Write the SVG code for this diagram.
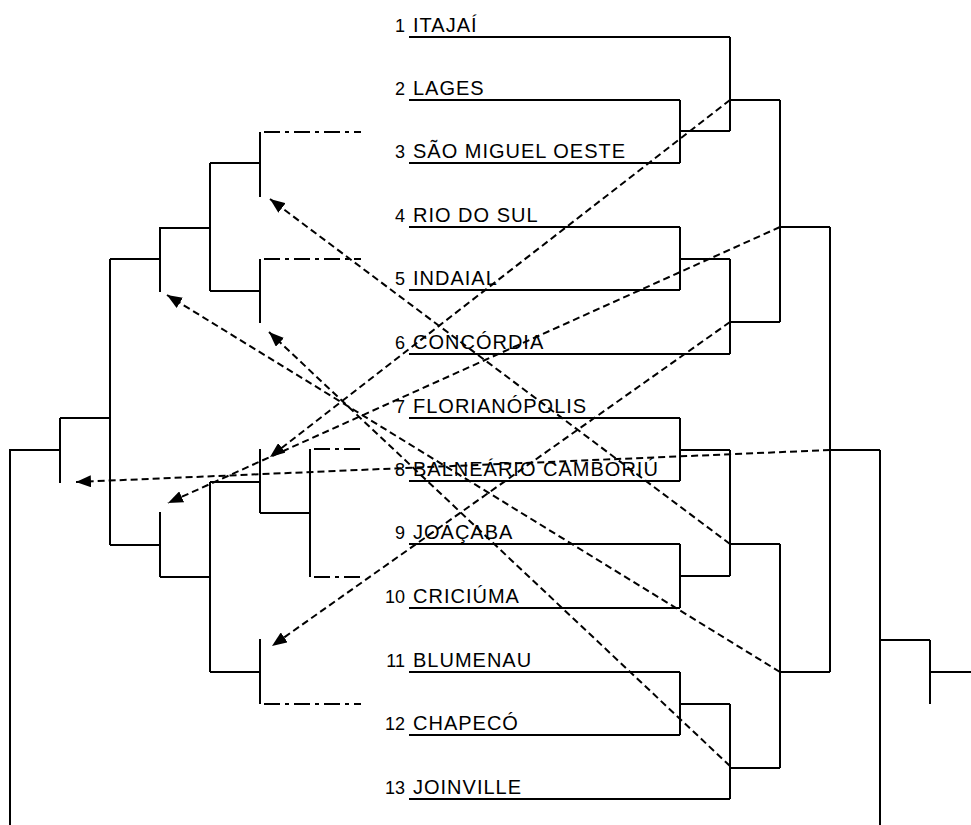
<svg xmlns="http://www.w3.org/2000/svg" width="971" height="825" viewBox="0 0 971 825">
<style>
.ln{stroke:#000;stroke-width:2;fill:none;stroke-linecap:butt}
.dd{stroke:#000;stroke-width:2;fill:none;stroke-dasharray:16 5 4 5}
.ar{stroke:#000;stroke-width:2;fill:none;stroke-dasharray:7 4;marker-end:url(#ah)}
.num{font-family:"Liberation Sans",Arial,sans-serif;font-size:18px;fill:#000;text-anchor:end}
.nm{font-family:"Liberation Sans",Arial,sans-serif;font-size:20px;fill:#000;letter-spacing:1px}
</style>
<defs>
<marker id="ah" markerUnits="userSpaceOnUse" markerWidth="15" markerHeight="12" refX="15" refY="6" orient="auto">
<path d="M0,0 L15,6 L0,12 z" fill="#000"/>
</marker>
</defs>
<rect width="971" height="825" fill="#fff"/>
<g id="team1"><text class="num" x="405" y="32">1</text><text class="nm" x="413" y="32">ITAJAÍ</text><path class="ln" d="M409,37 H730"/></g>
<g id="team2"><text class="num" x="405" y="95">2</text><text class="nm" x="413" y="95">LAGES</text><path class="ln" d="M409,100 H680"/></g>
<g id="team3"><text class="num" x="405" y="158">3</text><text class="nm" x="413" y="158">SÃO MIGUEL OESTE</text><path class="ln" d="M409,163 H680"/></g>
<g id="team4"><text class="num" x="405" y="222">4</text><text class="nm" x="413" y="222">RIO DO SUL</text><path class="ln" d="M409,227 H680"/></g>
<g id="team5"><text class="num" x="405" y="285">5</text><text class="nm" x="413" y="285">INDAIAL</text><path class="ln" d="M409,290 H680"/></g>
<g id="team6"><text class="num" x="405" y="349">6</text><text class="nm" x="413" y="349">CONCÓRDIA</text><path class="ln" d="M409,354 H730"/></g>
<g id="team7"><text class="num" x="405" y="413">7</text><text class="nm" x="413" y="413">FLORIANÓPOLIS</text><path class="ln" d="M409,418 H680"/></g>
<g id="team8"><text class="num" x="405" y="476">8</text><text class="nm" x="413" y="476">BALNEÁRIO CAMBORIÚ</text><path class="ln" d="M409,481 H680"/></g>
<g id="team9"><text class="num" x="405" y="539">9</text><text class="nm" x="413" y="539">JOAÇABA</text><path class="ln" d="M409,544 H680"/></g>
<g id="team10"><text class="num" x="405" y="603">10</text><text class="nm" x="413" y="603">CRICIÚMA</text><path class="ln" d="M409,608 H680"/></g>
<g id="team11"><text class="num" x="405" y="667">11</text><text class="nm" x="413" y="667">BLUMENAU</text><path class="ln" d="M409,672 H680"/></g>
<g id="team12"><text class="num" x="405" y="730">12</text><text class="nm" x="413" y="730">CHAPECÓ</text><path class="ln" d="M409,735 H680"/></g>
<g id="team13"><text class="num" x="405" y="794">13</text><text class="nm" x="413" y="794">JOINVILLE</text><path class="ln" d="M409,799 H730"/></g>
<g id="right-bracket">
<path class="ln" d="M680,100 V163 M680,131 H730 M730,37 V131 M730,100 H780"/>
<path class="ln" d="M680,227 V290 M680,259 H730 M730,259 V354 M730,322 H780"/>
<path class="ln" d="M780,100 V322 M780,227 H830"/>
<path class="ln" d="M680,418 V481 M680,450 H730 M680,544 V608 M680,576 H730 M730,450 V576 M730,544 H780"/>
<path class="ln" d="M680,672 V735 M680,704 H730 M730,704 V799 M730,768 H780"/>
<path class="ln" d="M780,544 V768 M780,672 H830"/>
<path class="ln" d="M830,227 V672 M830,450 H880 M880,450 V825 M880,640 H930 M930,640 V704 M930,672 H971"/>
</g>
<g id="left-bracket">
<path class="ln" d="M10,825 V450 H60 M60,418 V483 M60,418 H110 M110,259 V545 M110,259 H160 M110,545 H160"/>
<path class="ln" d="M160,227 V292 M160,228 H210 M210,163 V291 M210,163 H260 M210,291 H260 M260,132 V197 M260,259 V323"/>
<path class="ln" d="M160,512 V577 M160,577 H210 M210,482 V672 M210,482 H260 M210,672 H260 M260,449 V513 M260,513 H310 M310,449 V577 M260,639 V704"/>
<path class="dd" d="M264,132 H361 M264,259 H361 M314,449 H361 M314,577 H361 M264,704 H361"/>
</g>
<g id="connectors">
<path class="ar" d="M730,100 L270,457"/>
<path class="ar" d="M780,227 L168,503"/>
<path class="ar" d="M730,322 L272,646"/>
<path class="ar" d="M830,450 L76,482"/>
<path class="ar" d="M730,544 L270,199"/>
<path class="ar" d="M780,672 L167,295"/>
<path class="ar" d="M730,766 L269,332"/>
</g>
</svg>
